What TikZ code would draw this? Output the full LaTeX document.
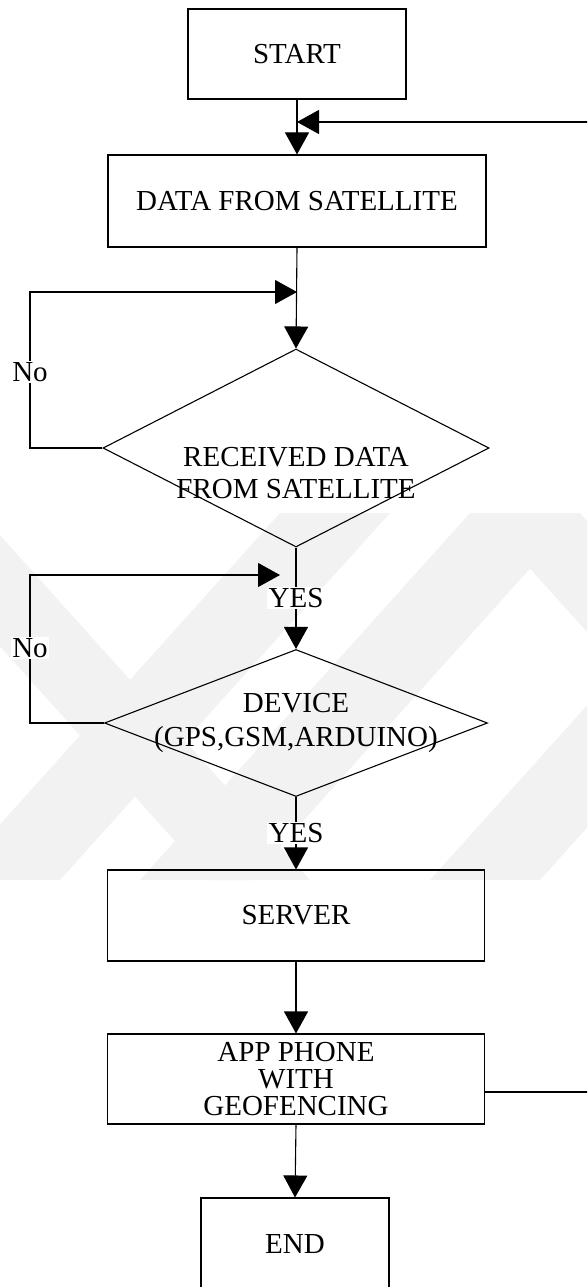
\documentclass[tikz,border=0pt]{standalone}
\usepackage{fontspec}
\setmainfont{Liberation Serif}
\usetikzlibrary{arrows.meta,shapes.geometric}

\begin{document}
\begin{tikzpicture}[x=1pt,y=-1pt,
  txt/.style={font=\fontsize{29}{27}\selectfont,inner sep=0pt},
  box/.style={draw,line width=1.1pt,rectangle,align=center,txt},
  decision/.style={draw,line width=1.1pt,diamond,inner sep=0pt},
  arr/.style={line width=1.1pt,-{Triangle[length=22pt,width=24pt]}},
  lbl/.style={txt,fill=white,inner sep=1.5pt},
  wm/.style={fill=black!5}]
\useasboundingbox (0,0) rectangle (587,1287);
\clip (0,0) rectangle (587,1287);

% faint background stripes
\begin{scope}
  \clip (0,513) rectangle (587,880);
  \fill[wm] (280,513) -- (390,513) -- (60,880) -- (-50,880) -- cycle;
  \fill[wm] (470,513) -- (580,513) -- (250,880) -- (140,880) -- cycle;
  \fill[wm] (760,513) -- (870,513) -- (540,880) -- (430,880) -- cycle;
  \fill[wm] (480,513) -- (580,513) -- (910,880) -- (810,880) -- cycle;
  \fill[wm] (-120,513) -- (-20,513) -- (310,880) -- (210,880) -- cycle;
\end{scope}

% process boxes
\node[box,minimum width=218pt,minimum height=90pt] (start) at (297,54) {START};
\node[box,minimum width=378pt,minimum height=92pt] (data) at (297,201) {DATA FROM SATELLITE};
\node[decision,minimum width=386pt,minimum height=198pt] (dec1) at (296,448) {};
\node[txt] (dec1a) at (296,457) {RECEIVED DATA};
\node[txt] (dec1b) at (296,489) {FROM SATELLITE};
\node[decision,minimum width=383pt,minimum height=147pt] (dec2) at (296,723) {};
\node[txt] (dec2a) at (296,703) {DEVICE};
\node[txt] (dec2b) at (296,740) {(GPS,GSM,ARDUINO)};
\node[box,minimum width=377pt,minimum height=91pt] (server) at (296,915.5) {SERVER};
\node[box,minimum width=377pt,minimum height=90pt] (app) at (296,1079) {APP PHONE\\WITH\\GEOFENCING};
\node[box,minimum width=188pt,minimum height=92pt] (end) at (295,1244) {END};

% junction points
\coordinate (top) at (297,122);
\coordinate (l1) at (30,292);
\coordinate (l2) at (30,575);
\coordinate (l2end) at (280,575);
\coordinate (fbr) at (620,1092);

% main flow
\draw[arr] (start.south) -- (data.north);
\draw[arr] (data.south) -- (dec1.north);
\draw[arr] (dec1.south) -- (dec2.north);
\draw[arr] (dec2.south) -- (server.north);
\draw[arr] (server.south) -- (app.north);
\draw[arr] (app.south) -- (end.north);

% loops
\draw[arr] (dec1.west) -| (l1) -- (data.south |- l1);
\draw[arr] (dec2.west) -| (l2) -- (l2end);
\draw[arr] (app.east |- fbr) -- (fbr) -- (fbr |- top) -- (top);

% labels
\node[lbl] (no1) at (30,372) {No};
\node[lbl] (no2) at (30,648) {No};
\node[lbl] (yes1) at (296,598) {YES};
\node[lbl] (yes2) at (296,833) {YES};
\end{tikzpicture}
\end{document}
